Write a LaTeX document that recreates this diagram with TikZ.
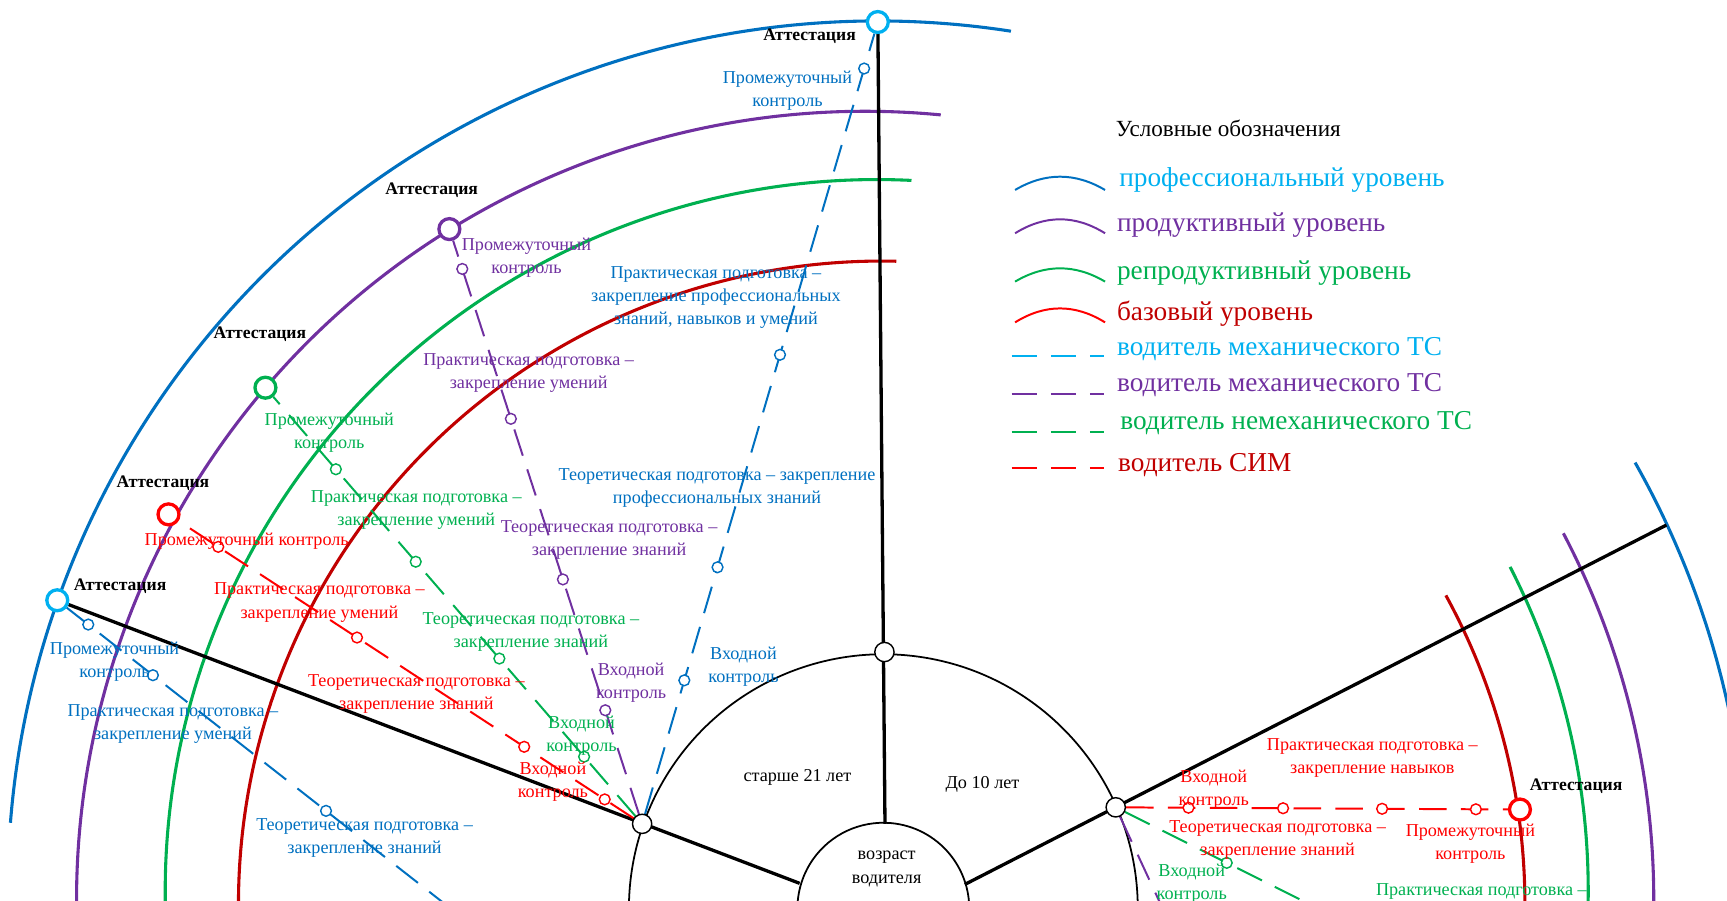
\documentclass[tikz,border=0pt]{standalone}
\usepackage{fontspec}
\setmainfont{Liberation Serif}
\usetikzlibrary{calc,backgrounds}
\definecolor{cblue}{HTML}{0070C0}
\definecolor{ccyan}{HTML}{00B0F0}
\definecolor{cpurp}{HTML}{7030A0}
\definecolor{cgreen}{HTML}{00B050}
\definecolor{cdred}{HTML}{C00000}
\definecolor{cred}{HTML}{FF0000}
\newcommand\lblfont{\fontsize{16.5}{21}\selectfont}
\newcommand\attfont{\fontsize{16}{19}\selectfont\bfseries}
\newcommand\legfont{\fontsize{24.8}{29}\selectfont}
\newcommand\ttlfont{\fontsize{21}{25}\selectfont}
\begin{document}
\begin{tikzpicture}[x=1pt,y=-1pt,
  lbl/.style={font=\lblfont, align=center, inner sep=0pt},
  atl/.style={font=\attfont, inner sep=0pt},
  leg/.style={font=\legfont, anchor=west, inner sep=0pt},
  smc/.style={circle, draw=#1, fill=white, line width=1.3pt, minimum size=9.8pt, inner sep=0pt},
  atc/.style={circle, draw=#1, fill=white, line width=3pt, minimum size=19pt, inner sep=0pt},
  jnc/.style={circle, draw=black, fill=white, line width=1.3pt, minimum size=17.5pt, inner sep=0pt},
  track/.style={draw=#1, line width=1.8pt, dash pattern=on 25pt off 13pt},
  level/.style={draw=#1, line width=2.8pt},
  spoke/.style={draw=black, line width=3pt},
  semi/.style={draw=black, line width=1.6pt},
  legarc/.style={draw=#1, line width=1.8pt},
  legdash/.style={draw=#1, line width=1.8pt, dash pattern=on 23pt off 12.5pt},
]
\useasboundingbox (0,0) rectangle (1568,818);

\begin{scope}
\clip (0,0) rectangle (1568,818);
% junction circles
\node[jnc] (JL) at (583,748) {};
\node[jnc] (JT) at (803,592) {};
\node[jnc] (JR) at (1013,733) {};
% attestation circles
\node[atc=ccyan] (AT) at (797,20) {};
\node[atc=ccyan] (AL) at (52,545) {};
\node[atc=cpurp] (AP) at (408,208) {};
\node[atc=cgreen] (AG) at (241,352) {};
\node[atc=cred] (AR) at (153,467) {};
\node[atc=cred] (ARR) at (1380,735) {};
\coordinate (EBL) at (454,860);
\coordinate (EGR) at (1253,853);
\coordinate (EPR) at (1064,843);
% small circles
\node[smc=cblue] (b1) at ($(JL)!0.179!(AT)$) {};
\node[smc=cblue] (b2) at ($(JL)!0.320!(AT)$) {};
\node[smc=cblue] (b3) at ($(JL)!0.585!(AT)$) {};
\node[smc=cblue] (b4) at ($(JL)!0.942!(AT)$) {};
\node[smc=cpurp] (p1) at ($(JL)!0.191!(AP)$) {};
\node[smc=cpurp] (p2) at ($(JL)!0.411!(AP)$) {};
\node[smc=cpurp] (p3) at ($(JL)!0.681!(AP)$) {};
\node[smc=cpurp] (p4) at ($(JL)!0.933!(AP)$) {};
\node[smc=cgreen] (g1) at ($(JL)!0.154!(AG)$) {};
\node[smc=cgreen] (g2) at ($(JL)!0.379!(AG)$) {};
\node[smc=cgreen] (g3) at ($(JL)!0.601!(AG)$) {};
\node[smc=cgreen] (g4) at ($(JL)!0.813!(AG)$) {};
\node[smc=cred] (r1) at ($(JL)!0.079!(AR)$) {};
\node[smc=cred] (r2) at ($(JL)!0.249!(AR)$) {};
\node[smc=cred] (r3) at ($(JL)!0.602!(AR)$) {};
\node[smc=cred] (r4) at ($(JL)!0.895!(AR)$) {};
\node[smc=cblue] (c1) at ($(AL)!0.070!(EBL)$) {};
\node[smc=cblue] (c2) at ($(AL)!0.216!(EBL)$) {};
\node[smc=cblue] (c3) at ($(AL)!0.607!(EBL)$) {};
\node[smc=cred] (s1) at ($(JR)!0.180!(ARR)$) {};
\node[smc=cred] (s2) at ($(JR)!0.414!(ARR)$) {};
\node[smc=cred] (s3) at ($(JR)!0.659!(ARR)$) {};
\node[smc=cred] (s4) at ($(JR)!0.891!(ARR)$) {};
\node[smc=cgreen] (q1) at ($(JR)!0.42!(EGR)$) {};

% attestation labels
\node[atl] (t1) at (735,33) {Аттестация};
\node[atl] (t2) at (392,173) {Аттестация};
\node[atl] (t3) at (236,303) {Аттестация};
\node[atl] (t4) at (148,439) {Аттестация};
\node[atl] (t5) at (109,532) {Аттестация};
\node[atl] (t6) at (1431,714) {Аттестация};

% blue labels
\node[lbl, text=cblue] (bl1) at (715,82) {Промежуточный\\контроль};
\node[lbl, text=cblue] (bl2) at (650,270) {Практическая подготовка –\\закрепление профессиональных\\знаний, навыков и умений};
\node[lbl, text=cblue] (bl3) at (651,443) {Теоретическая подготовка – закрепление\\профессиональных знаний};
\node[lbl, text=cblue] (bl4) at (675,605) {Входной\\контроль};
\node[lbl, text=cblue] (bl5) at (104,601) {Промежуточный\\контроль};
\node[lbl, text=cblue] (bl6) at (157,657) {Практическая подготовка –\\закрепление умений};
\node[lbl, text=cblue] (bl7) at (331,761) {Теоретическая подготовка –\\закрепление знаний};
% purple labels
\node[lbl, text=cpurp] (pl1) at (478,234) {Промежуточный\\контроль};
\node[lbl, text=cpurp] (pl2) at (480,339) {Практическая подготовка –\\закрепление умений};
\node[lbl, text=cpurp] (pl3) at (553,490) {Теоретическая подготовка –\\закрепление знаний};
\node[lbl, text=cpurp] (pl4) at (573,620) {Входной\\контроль};
% green labels
\node[lbl, text=cgreen] (gl1) at (299,393) {Промежуточный\\контроль};
\node[lbl, text=cgreen] (gl2) at (378,463) {Практическая подготовка –\\закрепление умений};
\node[lbl, text=cgreen] (gl3) at (482,574) {Теоретическая подготовка –\\закрепление знаний};
\node[lbl, text=cgreen] (gl4) at (528,668) {Входной\\контроль};
\node[lbl, text=cgreen] (gl5) at (1082,802) {Входной\\контроль};
\node[lbl, text=cgreen] (gl6) at (1345,809) {Практическая подготовка –};
% red labels
\node[lbl, text=cred] (rl1) at (224,491) {Промежуточный контроль};
\node[lbl, text=cred] (rl2) at (290,547) {Практическая подготовка –\\закрепление умений};
\node[lbl, text=cred] (rl3) at (378,630) {Теоретическая подготовка –\\закрепление знаний};
\node[lbl, text=cred] (rl4) at (502,710) {Входной\\контроль};
\node[lbl, text=cred] (rl5) at (1102,717) {Входной\\контроль};
\node[lbl, text=cred] (rl6) at (1246,688) {Практическая подготовка –\\закрепление навыков};
\node[lbl, text=cred] (rl7) at (1160,763) {Теоретическая подготовка –\\закрепление знаний};
\node[lbl, text=cred] (rl8) at (1335,766) {Промежуточный\\контроль};
% black texts
\node[lbl] (k1) at (724,706) {старше 21 лет};
\node[lbl] (k2) at (892,712) {До 10 лет};
\node[lbl] (k3) at (805,789) {возраст\\водителя};
\end{scope}

% legend
\node[font=\ttlfont, anchor=west, inner sep=0pt] (lgt) at (1013,116.5) {Условные обозначения};
\node[leg, text=ccyan] (lg1) at (1016,163.4) {профессиональный уровень};
\node[leg, text=cpurp] (lg2) at (1014,204.3) {продуктивный уровень};
\node[leg, text=cgreen] (lg3) at (1014,247.6) {репродуктивный уровень};
\node[leg, text=cdred] (lg4) at (1014,284.5) {базовый уровень};
\node[leg, text=ccyan] (lg5) at (1014,317) {водитель механического ТС};
\node[leg, text=cpurp] (lg6) at (1014,349.6) {водитель механического ТС};
\node[leg, text=cgreen] (lg7) at (1017,383.8) {водитель немеханического ТС};
\node[leg, text=cdred] (lg8) at (1015,422.2) {водитель СИМ};
\coordinate (la1) at (921.6,172.5); \coordinate (lb1) at (1003.3,172.5);
\coordinate (la2) at (921.6,211.8); \coordinate (lb2) at (1003.3,211.8);
\coordinate (la3) at (921.6,255.7); \coordinate (lb3) at (1003.3,255.7);
\coordinate (la4) at (921.6,292.7); \coordinate (lb4) at (1003.3,292.7);
\draw[legarc=cblue] (la1) .. controls +(27.2,-16.1) and +(-27.2,-16.1) .. (lb1);
\draw[legarc=cpurp] (la2) .. controls +(27.2,-16.9) and +(-27.2,-16.9) .. (lb2);
\draw[legarc=cgreen] (la3) .. controls +(27.2,-16.1) and +(-27.2,-16.1) .. (lb3);
\draw[legarc=cred] (la4) .. controls +(27.2,-16.9) and +(-27.2,-16.9) .. (lb4);
\coordinate (ld5) at (918.5,323); \coordinate (le5) at (1002,323);
\coordinate (ld6) at (918.5,357.7); \coordinate (le6) at (1002,357.7);
\coordinate (ld7) at (918.5,391.9); \coordinate (le7) at (1002,391.9);
\coordinate (ld8) at (918.5,425.2); \coordinate (le8) at (1002,425.2);
\draw[legdash=ccyan] (ld5) -- (le5);
\draw[legdash=cpurp] (ld6) -- (le6);
\draw[legdash=cgreen] (ld7) -- (le7);
\draw[legdash=cred] (ld8) -- (le8);

\begin{scope}[on background layer]
\clip (0,0) rectangle (1568,818);
\coordinate (B0) at (797,809);
\coordinate (P0) at (785.5,817);
\coordinate (G0) at (796,809);
\coordinate (R0) at (800.5,821);
\coordinate (C) at (802,825);
% level arcs
\draw[level=cblue] ([shift={(-81.2:790)}]B0) arc[start angle=-81.2, end angle=-175.5, radius=790];
\draw[level=cblue] ([shift={(-29.5:790)}]B0) arc[start angle=-29.5, end angle=5, radius=790];
\draw[level=cpurp] ([shift={(-84.5:716)}]P0) arc[start angle=-84.5, end angle=-182, radius=716];
\draw[level=cpurp] ([shift={(-27.7:716)}]P0) arc[start angle=-27.7, end angle=3, radius=716];
\draw[level=cgreen] ([shift={(-87.2:646)}]G0) arc[start angle=-87.2, end angle=-182, radius=646];
\draw[level=cgreen] ([shift={(-27.1:646)}]G0) arc[start angle=-27.1, end angle=3, radius=646];
\draw[level=cdred] ([shift={(-88.7:584)}]R0) arc[start angle=-88.7, end angle=-182, radius=584];
\draw[level=cdred] ([shift={(-28.7:584)}]R0) arc[start angle=-28.7, end angle=3, radius=584];
% semicircles
\draw[semi] ([shift={(5:231)}]C) arc[start angle=5, end angle=-185, radius=231];
\draw[semi] ([shift={(5:78)}]C) arc[start angle=5, end angle=-185, radius=78];
% spokes
\coordinate (IT) at (803.5,748);
\coordinate (IL) at (726,802);
\coordinate (IR) at (876,803);
\coordinate (ER) at (1513,476.7);
\draw[spoke] (IT) -- (AT);
\draw[spoke] (IL) -- (AL);
\draw[spoke] (IR) -- (ER);
% tracks
\draw[track=cblue] (JL) -- (AT);
\draw[track=cpurp] (JL) -- (AP);
\draw[track=cgreen] (JL) -- (AG);
\draw[track=cred] (JL) -- (AR);
\draw[track=cblue] (AL) -- (EBL);
\draw[track=cred] (JR) -- (ARR);
\draw[track=cgreen] (JR) -- (EGR);
\draw[track=cpurp] (JR) -- (EPR);
\end{scope}
\end{tikzpicture}
\end{document}
